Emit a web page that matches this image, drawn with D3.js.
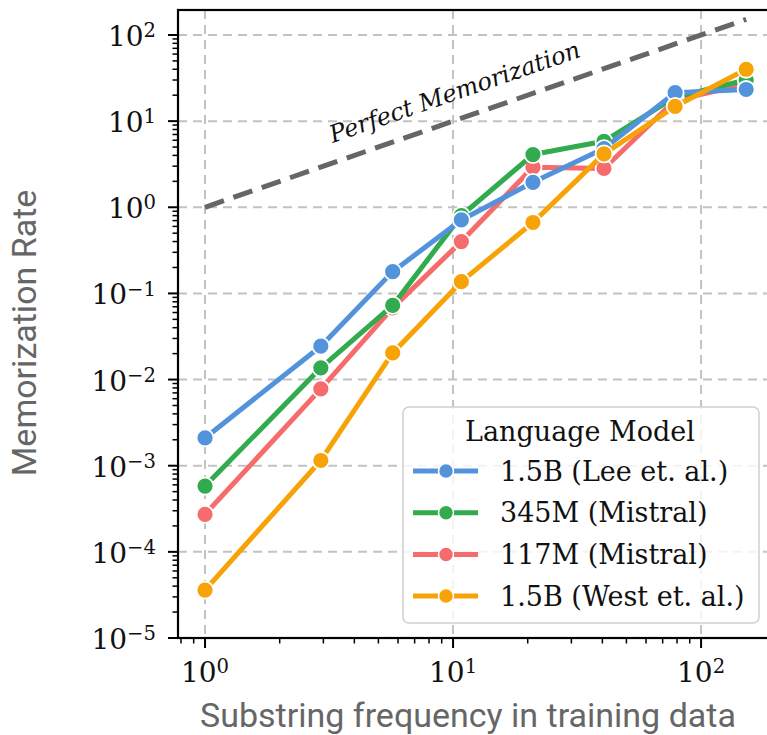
<!DOCTYPE html>
<html>
<head>
<meta charset="utf-8">
<script src="https://cdn.jsdelivr.net/npm/d3@7"></script>
<style>
  html, body { margin: 0; padding: 0; background: #fff; overflow: hidden; }
</style>
</head>
<body>
<div id="chart"></div>
<script>
// -------------------------------------------------------------------------
// DATA
// -------------------------------------------------------------------------
const frequency = [1, 2.93, 5.71, 10.8, 21.0, 40.6, 78.6, 152];

const lee1_5B      = [2.1e-3, 0.0244, 0.179, 0.713, 1.95, 4.8, 21.4, 23.3];
const mistral345M  = [5.8e-4, 0.0137, 0.0726, 0.80, 4.09, 5.83, 19.0, 30.0];
const mistral117M  = [2.73e-4, 7.8e-3, 0.068, 0.40, 2.92, 2.82, 17.5, 27.0];
const west1_5B     = [3.6e-5, 1.15e-3, 0.0204, 0.137, 0.666, 4.17, 14.8, 40.0];

const seriesNames = ["1.5B (Lee et. al.)", "345M (Mistral)", "117M (Mistral)", "1.5B (West et. al.)"];
const seriesValues = [lee1_5B, mistral345M, mistral117M, west1_5B];
const seriesColors = ["#5393dc", "#31ab4d", "#f66b6b", "#f7a307"];
// drawing order seen in the picture (bottom -> top)
const drawOrder = [2, 1, 0, 3];

const perfectLine = [1, 152];
const yTickExps = [-5, -4, -3, -2, -1, 0, 1, 2];
const xTickExps = [0, 1, 2];

// -------------------------------------------------------------------------
// CANVAS + SCALES
// -------------------------------------------------------------------------
const W = 767, H = 735;
const plot = { left: 178, right: 773, top: 10, bottom: 638 };

const svg = d3.select("#chart").append("svg")
  .attr("width", W).attr("height", H);

const x = d3.scaleLog()
  .domain([Math.pow(10, -0.109), Math.pow(10, 2.29)])
  .range([plot.left, plot.right]);

const y = d3.scaleLog()
  .domain([1e-5, Math.pow(10, 2.29)])
  .range([plot.bottom, plot.top]);

const supMinus = e => (e < 0 ? "\u2212" + (-e) : "" + e);

// minor tick values inside the domain
function minorTicks(scale) {
  const [a, b] = scale.domain();
  const out = [];
  for (let e = Math.floor(Math.log10(a)); e <= Math.ceil(Math.log10(b)); e++) {
    for (let m = 2; m <= 9; m++) {
      const v = m * Math.pow(10, e);
      if (v >= a && v <= b) out.push(v);
    }
  }
  return out;
}

// -------------------------------------------------------------------------
// GRID
// -------------------------------------------------------------------------
const grid = svg.append("g")
  .attr("stroke", "#c2c2c2")
  .attr("stroke-width", 2)
  .attr("stroke-dasharray", "9,6");

grid.selectAll("line.gy")
  .data(yTickExps)
  .join("line")
  .attr("x1", plot.left).attr("x2", plot.right)
  .attr("y1", d => y(Math.pow(10, d))).attr("y2", d => y(Math.pow(10, d)));

grid.selectAll("line.gx")
  .data(xTickExps)
  .join("line")
  .attr("y1", plot.top).attr("y2", plot.bottom)
  .attr("x1", d => x(Math.pow(10, d))).attr("x2", d => x(Math.pow(10, d)));

// -------------------------------------------------------------------------
// PERFECT MEMORIZATION REFERENCE
// -------------------------------------------------------------------------
svg.append("line")
  .attr("x1", x(perfectLine[0])).attr("y1", y(perfectLine[0]))
  .attr("x2", x(perfectLine[1])).attr("y2", y(perfectLine[1]))
  .attr("stroke", "#666")
  .attr("stroke-width", 5)
  .attr("stroke-dasharray", "20,10");

const angle = Math.atan2(y(1) - y(100), x(100) - x(1)) * 180 / Math.PI;
const labelAt = 10.4;
svg.append("text")
  .attr("transform", `translate(${x(labelAt)},${y(labelAt) - 20}) rotate(${-angle})`)
  .attr("text-anchor", "middle")
  .style("font-family", "'DejaVu Serif', serif")
  .style("font-style", "italic")
  .style("font-size", "24px")
  .style("fill", "#111")
  .text("Perfect Memorization");

// -------------------------------------------------------------------------
// SERIES
// -------------------------------------------------------------------------
const line = d3.line()
  .x((d, i) => x(frequency[i]))
  .y(d => y(d));

drawOrder.forEach(k => {
  const g = svg.append("g");
  g.append("path")
    .datum(seriesValues[k])
    .attr("d", line)
    .attr("fill", "none")
    .attr("stroke", seriesColors[k])
    .attr("stroke-width", 5)
    .attr("stroke-linejoin", "round");
  g.selectAll("circle")
    .data(seriesValues[k])
    .join("circle")
    .attr("cx", (d, i) => x(frequency[i]))
    .attr("cy", d => y(d))
    .attr("r", 8.5)
    .attr("fill", seriesColors[k])
    .attr("stroke", "#fff")
    .attr("stroke-width", 1.8);
});

// -------------------------------------------------------------------------
// AXES (spines, ticks, labels)
// -------------------------------------------------------------------------
const axes = svg.append("g").attr("stroke", "#000");

axes.append("rect")
  .attr("x", plot.left).attr("y", plot.top)
  .attr("width", plot.right - plot.left).attr("height", plot.bottom - plot.top)
  .attr("fill", "none").attr("stroke-width", 2.2);

// y ticks
axes.selectAll("line.ymaj")
  .data(yTickExps).join("line")
  .attr("x1", plot.left - 10).attr("x2", plot.left)
  .attr("y1", d => y(Math.pow(10, d))).attr("y2", d => y(Math.pow(10, d)))
  .attr("stroke-width", 2);
axes.selectAll("line.ymin")
  .data(minorTicks(y)).join("line")
  .attr("x1", plot.left - 5.5).attr("x2", plot.left)
  .attr("y1", d => y(d)).attr("y2", d => y(d))
  .attr("stroke-width", 1.5);

// x ticks
axes.selectAll("line.xmaj")
  .data(xTickExps).join("line")
  .attr("y1", plot.bottom).attr("y2", plot.bottom + 10)
  .attr("x1", d => x(Math.pow(10, d))).attr("x2", d => x(Math.pow(10, d)))
  .attr("stroke-width", 2);
axes.selectAll("line.xmin")
  .data(minorTicks(x)).join("line")
  .attr("y1", plot.bottom).attr("y2", plot.bottom + 5.5)
  .attr("x1", d => x(d)).attr("x2", d => x(d))
  .attr("stroke-width", 1.5);

function powerLabel(sel) {
  sel.append("tspan").text("10");
  sel.append("tspan")
    .attr("dy", "-0.45em")
    .style("font-size", "70%")
    .text(d => supMinus(d));
}

svg.append("g")
  .selectAll("text")
  .data(yTickExps).join("text")
  .attr("x", 156)
  .attr("y", d => y(Math.pow(10, d)) + 11)
  .attr("text-anchor", "end")
  .style("font-family", "'DejaVu Serif', serif")
  .style("font-size", "28px")
  .style("fill", "#111")
  .call(powerLabel);

svg.append("g")
  .selectAll("text")
  .data(xTickExps).join("text")
  .attr("x", d => x(Math.pow(10, d)))
  .attr("y", 682)
  .attr("text-anchor", "middle")
  .style("font-family", "'DejaVu Serif', serif")
  .style("font-size", "28px")
  .style("fill", "#111")
  .call(powerLabel);

svg.append("text")
  .attr("x", 468).attr("y", 727)
  .attr("text-anchor", "middle")
  .style("font-family", "Roboto, sans-serif")
  .style("font-size", "34px")
  .style("fill", "#666")
  .text("Substring frequency in training data");

svg.append("text")
  .attr("transform", `translate(36,333) rotate(-90)`)
  .attr("text-anchor", "middle")
  .style("font-family", "Roboto, sans-serif")
  .style("font-size", "34px")
  .style("fill", "#666")
  .text("Memorization Rate");

// -------------------------------------------------------------------------
// LEGEND
// -------------------------------------------------------------------------
const legend = svg.append("g");
legend.append("rect")
  .attr("x", 403).attr("y", 407)
  .attr("width", 356).attr("height", 216)
  .attr("rx", 6)
  .attr("fill", "#fff").attr("fill-opacity", 0.8)
  .attr("stroke", "#d0d0d0").attr("stroke-width", 1.5);

legend.append("text")
  .attr("x", 580).attr("y", 441)
  .attr("text-anchor", "middle")
  .style("font-family", "'DejaVu Serif', serif")
  .style("font-size", "27px")
  .style("fill", "#111")
  .text("Language Model");

const entry = legend.selectAll("g.entry")
  .data(seriesNames)
  .join("g")
  .attr("transform", (d, i) => `translate(0,${471 + i * 41.7})`);

entry.append("line")
  .attr("x1", 413).attr("x2", 478)
  .attr("stroke", (d, i) => seriesColors[i])
  .attr("stroke-width", 5);
entry.append("circle")
  .attr("cx", 446).attr("r", 7.5)
  .attr("fill", (d, i) => seriesColors[i])
  .attr("stroke", "#fff").attr("stroke-width", 1.5);
entry.append("text")
  .attr("x", 500).attr("dy", "0.36em")
  .style("font-family", "'DejaVu Serif', serif")
  .style("font-size", "27px")
  .style("fill", "#111")
  .text(d => d);
</script>
</body>
</html>
